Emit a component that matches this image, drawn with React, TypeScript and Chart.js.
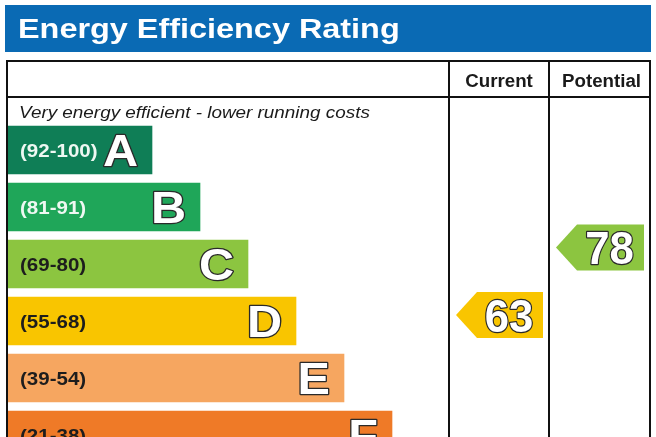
import { useEffect, useRef } from 'react';
import { Chart, registerables } from 'chart.js';

Chart.register(...registerables);

const TITLE = 'Energy Efficiency Rating';
const SUBTITLE = 'Very energy efficient - lower running costs';
const bandLetters = ['A', 'B', 'C', 'D', 'E', 'F'];
const bandRanges = ['(92-100)', '(81-91)', '(69-80)', '(55-68)', '(39-54)', '(21-38)'];
const bandMin = [92, 81, 69, 55, 39, 21];
const bandMax = [100, 91, 80, 68, 54, 38];
const barLengths = [3, 4, 5, 6, 7, 8];
const bandColors = ['#0f7e56', '#1fa659', '#8cc540', '#f9c500', '#f6a660', '#ef7a27'];
const rangeTextColors = ['#eef8f2', '#eef8f2', '#1d1d1d', '#1d1d1d', '#1d1d1d', '#1d1d1d'];
const ratingColumns = ['Current', 'Potential'];
const ratingValues = [63, 78];

const FONT = '"Liberation Sans", Arial, Helvetica, sans-serif';

type TxtOpt = {
  font: string;
  color: string;
  sx?: number;
  align?: CanvasTextAlign;
  stroke?: string;
  lw?: number;
};

function drawText(ctx: CanvasRenderingContext2D, s: string, x: number, y: number, o: TxtOpt) {
  ctx.save();
  ctx.translate(x, y);
  ctx.scale(o.sx ?? 1, 1);
  ctx.font = o.font;
  ctx.textAlign = o.align ?? 'left';
  ctx.textBaseline = 'alphabetic';
  if (o.stroke) {
    ctx.lineJoin = 'round';
    ctx.lineWidth = o.lw ?? 3;
    ctx.strokeStyle = o.stroke;
    ctx.strokeText(s, 0, 0);
  }
  ctx.fillStyle = o.color;
  ctx.fillText(s, 0, 0);
  ctx.restore();
}

export default function App() {
  const ref = useRef<HTMLCanvasElement>(null);

  useEffect(() => {
    const canvas = ref.current;
    if (!canvas) return;

    const TABLE = { left: 7, right: 650, top: 61, headerBottom: 97, cols: [449, 549, 650] };

    const deco = {
      id: 'epcDeco',
      beforeDatasetsDraw(chart: any) {
        const ctx: CanvasRenderingContext2D = chart.ctx;
        ctx.save();
        ctx.fillStyle = '#0a6ab4';
        ctx.fillRect(5, 5, 646, 47);
        ctx.restore();
        drawText(ctx, TITLE, 18, 38, { font: `bold 27px ${FONT}`, color: '#ffffff', sx: 1.2 });
        drawText(ctx, SUBTITLE, 19, 118, { font: `italic 16px ${FONT}`, color: '#1a1a1a', sx: 1.18 });
      },
      afterDatasetsDraw(chart: any) {
        const ctx: CanvasRenderingContext2D = chart.ctx;
        const meta = chart.getDatasetMeta(0);
        meta.data.forEach((el: any, i: number) => {
          const { x, y, base } = el.getProps(['x', 'y', 'base'], true);
          drawText(ctx, bandRanges[i], base + 12, y + 0.358 * 19, {
            font: `bold 19px ${FONT}`,
            color: rangeTextColors[i],
            sx: 1.08,
          });
          drawText(ctx, bandLetters[i], x - 14, y + 0.358 * 45, {
            font: `bold 45px ${FONT}`,
            color: '#ffffff',
            sx: 1.08,
            align: 'right',
            stroke: '#2a2a2a',
            lw: 2.5,
          });
        });

        // table frame
        const bottom = chart.height + 5;
        ctx.save();
        ctx.strokeStyle = '#111111';
        ctx.lineWidth = 2;
        ctx.beginPath();
        ctx.moveTo(TABLE.left, bottom);
        ctx.lineTo(TABLE.left, TABLE.top);
        ctx.lineTo(TABLE.right, TABLE.top);
        ctx.lineTo(TABLE.right, bottom);
        ctx.moveTo(TABLE.left, TABLE.headerBottom);
        ctx.lineTo(TABLE.right, TABLE.headerBottom);
        ctx.moveTo(TABLE.cols[0], TABLE.top);
        ctx.lineTo(TABLE.cols[0], bottom);
        ctx.moveTo(TABLE.cols[1], TABLE.top);
        ctx.lineTo(TABLE.cols[1], bottom);
        ctx.stroke();
        ctx.restore();

        ratingColumns.forEach((name, k) => {
          const cx = (TABLE.cols[k] + TABLE.cols[k + 1]) / 2 + k * 2;
          drawText(ctx, name, cx, 87, { font: `bold 18px ${FONT}`, color: '#1a1a1a', sx: 1.04, align: 'center' });
        });

        // rating arrows
        const yS = chart.scales.y;
        ratingValues.forEach((v, k) => {
          const bi = bandMin.findIndex((lo, i) => v >= lo && v <= bandMax[i]);
          const mid = (bandMin[bi] + bandMax[bi]) / 2;
          const pos = bi + (mid - v) / (bandMax[bi] - bandMin[bi] + 1);
          const cy = yS.getPixelForValue(pos);
          const tip = TABLE.cols[k] + 7;
          const right = TABLE.cols[k + 1] - 6;
          const half = 23;
          const tipLen = 21;
          ctx.save();
          ctx.fillStyle = bandColors[bi];
          ctx.beginPath();
          ctx.moveTo(tip, cy);
          ctx.lineTo(tip + tipLen, cy - half);
          ctx.lineTo(right, cy - half);
          ctx.lineTo(right, cy + half);
          ctx.lineTo(tip + tipLen, cy + half);
          ctx.closePath();
          ctx.fill();
          ctx.restore();
          const tcx = (tip + tipLen + right) / 2 - 1;
          drawText(ctx, String(v), tcx, cy + 0.358 * 47, {
            font: `bold 47px ${FONT}`,
            color: '#ffffff',
            align: 'center',
            sx: 0.93,
            stroke: '#2a2a2a',
            lw: 2.5,
          });
        });
      },
    };

    const chart = new Chart(canvas, {
      type: 'bar',
      data: {
        datasets: [
          {
            data: barLengths.map((len, i) => ({ x: len, y: i })),
            backgroundColor: bandColors,
            borderWidth: 0,
            barThickness: 48,
          },
        ],
      },
      options: {
        indexAxis: 'y',
        animation: false,
        responsive: false,
        events: [],
        layout: { padding: { top: 99, left: 8, right: 6, bottom: 0 } },
        plugins: {
          legend: { display: false },
          tooltip: { enabled: false },
          title: { display: false },
        },
        scales: {
          x: { type: 'linear', display: false, min: 0, max: 13.375, offset: false },
          y: { type: 'linear', display: false, reverse: true, min: -0.895, max: 5.035, offset: false },
        },
      },
      plugins: [deco],
    } as any);

    return () => chart.destroy();
  }, []);

  return (
    <div style={{ position: 'fixed', left: 0, top: 0, width: 656, height: 437, overflow: 'hidden', background: '#ffffff' }}>
      <canvas ref={ref} width={656} height={437} style={{ display: 'block', width: 656, height: 437 }} />
    </div>
  );
}
